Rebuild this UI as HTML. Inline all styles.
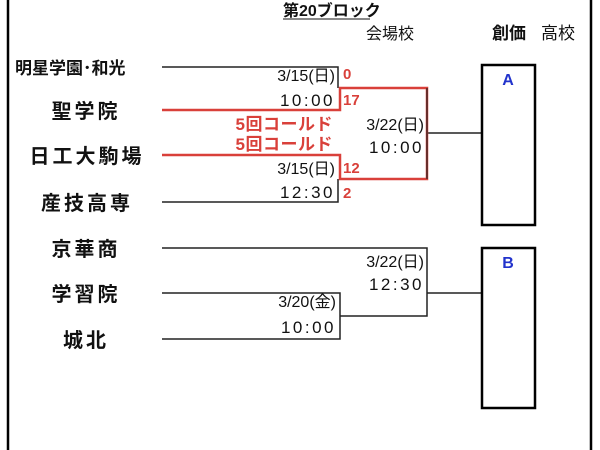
<!DOCTYPE html>
<html><head><meta charset="utf-8"><style>
html,body{margin:0;padding:0;background:#fff;}
svg{display:block;}
text{font-family:"Liberation Sans","Noto Sans CJK JP",sans-serif;}
.t{font-size:20px;font-weight:bold;letter-spacing:3px;fill:#111;}
.d{font-size:16px;fill:#111;}
.tm{font-size:17px;fill:#111;letter-spacing:2.5px;}
.r{font-size:15px;font-weight:bold;fill:#d9403a;}
.c{font-size:17px;font-weight:bold;fill:#d9403a;letter-spacing:0.5px;}
</style></head><body>
<svg width="600" height="450" viewBox="0 0 600 450" xmlns="http://www.w3.org/2000/svg">
<line x1="8" y1="0" x2="8" y2="450" stroke="#000" stroke-width="2.5"/>
<line x1="591" y1="0" x2="591" y2="450" stroke="#000" stroke-width="2.5"/>
<text x="283" y="16" font-size="16" font-weight="bold" fill="#111">第20ブロック</text>
<line x1="283" y1="19" x2="370" y2="19" stroke="#111" stroke-width="1"/>
<text x="366" y="39" font-size="16" fill="#111">会場校</text>
<text x="492" y="39" font-size="17" font-weight="bold" fill="#111">創価</text>
<text x="541" y="39" font-size="17" fill="#111">高校</text>
<!-- team names -->
<text x="15" y="74" font-size="17" font-weight="bold" fill="#111">明星学園･和光</text>
<text x="86" y="118" text-anchor="middle" class="t">聖学院</text>
<text x="87" y="163" text-anchor="middle" class="t">日工大駒場</text>
<text x="87" y="210" text-anchor="middle" class="t">産技高専</text>
<text x="86" y="256" text-anchor="middle" class="t">京華商</text>
<text x="86" y="301" text-anchor="middle" class="t">学習院</text>
<text x="86" y="347" text-anchor="middle" class="t">城北</text>
<!-- black lines -->
<g stroke="#222" stroke-width="1.5" fill="none">
<polyline points="162,67 338,67 338,88"/>
<polyline points="162,202 338,202 338,179"/>
<line x1="427" y1="133" x2="481" y2="133"/>
<polyline points="162,248 427,248 427,316 340,316"/>
<polyline points="162,293 340,293 340,339 162,339"/>
<line x1="427" y1="293" x2="481" y2="293"/>
</g>
<g stroke="#d9403a" stroke-width="2.5" fill="none">
<polyline points="162,110 340,110 340,88 427,88 427,179 340,179 340,155 162,155"/>
</g>
<line x1="427" y1="88" x2="427" y2="179" stroke="#222" stroke-width="1.2"/>
<!-- boxes -->
<rect x="482" y="65" width="53" height="160" fill="none" stroke="#000" stroke-width="2.5"/>
<rect x="482" y="248" width="53" height="160" fill="none" stroke="#000" stroke-width="2.5"/>
<text x="508" y="85" text-anchor="middle" font-size="16" font-weight="bold" fill="#2233cc">A</text>
<text x="508" y="268" text-anchor="middle" font-size="16" font-weight="bold" fill="#2233cc">B</text>
<!-- dates -->
<text x="335" y="81" text-anchor="end" class="d">3/15(日)</text>
<text x="335" y="106" text-anchor="end" class="tm">10:00</text>
<text x="335" y="174" text-anchor="end" class="d">3/15(日)</text>
<text x="335" y="198" text-anchor="end" class="tm">12:30</text>
<text x="424" y="130" text-anchor="end" class="d">3/22(日)</text>
<text x="424" y="153" text-anchor="end" class="tm">10:00</text>
<text x="424" y="267" text-anchor="end" class="d">3/22(日)</text>
<text x="424" y="290" text-anchor="end" class="tm">12:30</text>
<text x="336" y="307" text-anchor="end" class="d">3/20(金)</text>
<text x="336" y="333" text-anchor="end" class="tm">10:00</text>
<!-- scores -->
<text x="343" y="79" class="r">0</text>
<text x="343" y="105" class="r">17</text>
<text x="343" y="173" class="r">12</text>
<text x="343" y="198" class="r">2</text>
<text x="333" y="130" text-anchor="end" class="c">5回コールド</text>
<text x="333" y="150" text-anchor="end" class="c">5回コールド</text>
</svg>
</body></html>
